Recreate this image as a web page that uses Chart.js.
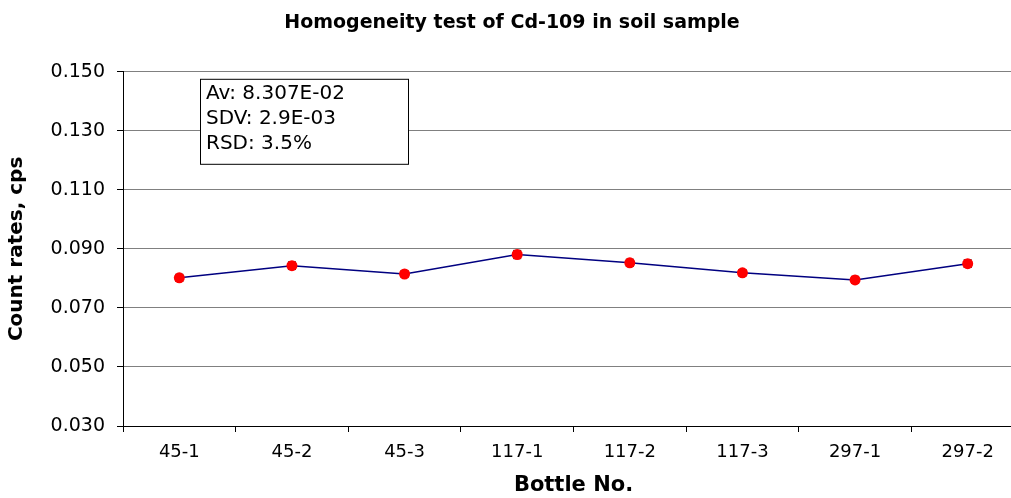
<!DOCTYPE html>
<html>
<head>
<meta charset="utf-8">
<script src="https://cdn.jsdelivr.net/npm/chart.js@4"></script>
<style>
  html, body { margin: 0; padding: 0; background: #fff; overflow: hidden; }
  #wrap { width: 1040px; height: 498px; }
</style>
</head>
<body>
<div id="wrap"><canvas id="grafico"></canvas></div>
<script>
const bottles = ['45-1', '45-2', '45-3', '117-1', '117-2', '117-3', '297-1', '297-2'];
const countRates = [0.0802, 0.0843, 0.0815, 0.0881, 0.0853, 0.0819, 0.0795, 0.0850];
const countErrors = [0.0012, 0.0013, 0.0011, 0.0014, 0.0012, 0.0011, 0.0012, 0.0013];
const statLines = ['Av: 8.307E-02', 'SDV: 2.9E-03', 'RSD: 3.5%'];

const fuente = "'DejaVu Sans', 'Liberation Sans', Arial, sans-serif";

// barras de error pequeñas, debajo de los puntos
const barrasError = {
    id: 'barrasError',
    beforeDatasetsDraw(chart) {
        const ctx = chart.ctx;
        const x = chart.scales.x, y = chart.scales.y;
        ctx.save();
        ctx.strokeStyle = '#000';
        ctx.lineWidth = 1;
        countRates.forEach((v, i) => {
            const px = x.getPixelForValue(i);
            const top = y.getPixelForValue(v + countErrors[i]);
            const bot = y.getPixelForValue(v - countErrors[i]);
            ctx.beginPath();
            ctx.moveTo(px, top); ctx.lineTo(px, bot);
            ctx.moveTo(px - 4, top); ctx.lineTo(px + 4, top);
            ctx.moveTo(px - 4, bot); ctx.lineTo(px + 4, bot);
            ctx.stroke();
        });
        ctx.restore();
    }
};

// cuadro con la estadística
const cuadroEstadistica = {
    id: 'cuadroEstadistica',
    afterDraw(chart) {
        const ctx = chart.ctx;
        const area = chart.chartArea;
        const bx = area.left + 77, by = area.top + 7, bw = 208, bh = 85;
        ctx.save();
        ctx.fillStyle = '#fff';
        ctx.fillRect(bx, by, bw, bh);
        ctx.strokeStyle = '#000';
        ctx.lineWidth = 1;
        ctx.strokeRect(bx + 0.5, by + 0.5, bw, bh);
        ctx.fillStyle = '#000';
        ctx.font = '20px ' + fuente;
        ctx.textBaseline = 'middle';
        ctx.textAlign = 'left';
        statLines.forEach((t, i) => ctx.fillText(t, bx + 6, by + 15 + i * 25));
        ctx.restore();
    }
};

new Chart(document.getElementById('grafico').getContext('2d'), {
    type: 'line',
    data: {
        labels: bottles,
        datasets: [{
            label: 'Count rate',
            data: countRates,
            borderColor: '#000080',
            borderWidth: 1.5,
            backgroundColor: '#ff0000',
            pointBackgroundColor: '#ff0000',
            pointBorderColor: '#ff0000',
            pointRadius: 5.5,
            pointBorderWidth: 0,
            tension: 0,
            fill: false
        }]
    },
    options: {
        responsive: true,
        maintainAspectRatio: false,
        animation: false,
        layout: { padding: { left: 0, right: 16, top: 0, bottom: 0 } },
        plugins: {
            legend: { display: false },
            tooltip: { enabled: false },
            title: {
                display: true,
                text: 'Homogeneity test of Cd-109 in soil sample',
                color: '#000',
                font: { family: fuente, size: 19, weight: 'bold' },
                padding: { top: 12, bottom: 37 }
            }
        },
        scales: {
            x: {
                type: 'category',
                offset: true,
                grid: {
                    offset: true,
                    drawOnChartArea: false,
                    tickLength: 6,
                    tickColor: '#000'
                },
                border: { color: '#000', width: 1 },
                ticks: {
                    color: '#000',
                    padding: 10,
                    maxRotation: 0,
                    font: { family: fuente, size: 18 }
                },
                title: {
                    display: true,
                    text: 'Bottle No.',
                    color: '#000',
                    font: { family: fuente, size: 21, weight: 'bold' },
                    padding: { top: 0, bottom: 0 }
                },
                afterFit(s) { s.height = 72; }
            },
            y: {
                min: 0.03,
                max: 0.15,
                grid: {
                    color: '#808080',
                    tickColor: '#000',
                    tickLength: 6
                },
                border: { color: '#000', width: 1 },
                ticks: {
                    stepSize: 0.02,
                    color: '#000',
                    padding: 12,
                    font: { family: fuente, size: 19 },
                    callback: v => v.toFixed(3)
                },
                title: {
                    display: true,
                    text: 'Count rates, cps',
                    color: '#000',
                    font: { family: fuente, size: 20, weight: 'bold' },
                    padding: { top: 5, bottom: 0 }
                },
                afterFit(s) { s.width = 123; }
            }
        }
    },
    plugins: [barrasError, cuadroEstadistica]
});
</script>
</body>
</html>
